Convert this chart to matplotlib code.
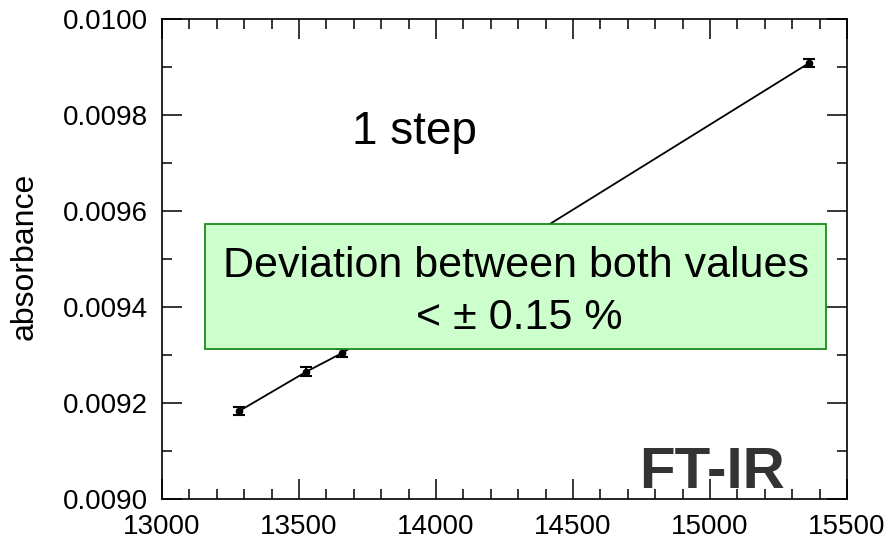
import matplotlib
matplotlib.use("Agg")
import matplotlib.pyplot as plt
from matplotlib.patches import Rectangle
from matplotlib.ticker import MultipleLocator, FormatStrFormatter

plt.rcParams['font.family'] = ['Liberation Sans', 'DejaVu Sans']

# data
wavenumber = [13281, 13526, 13657, 15361]
absorbance = [0.009183, 0.009265, 0.009304, 0.009908]
abs_err = [0.0000090, 0.0000090, 0.0000090, 0.0000090]

x_ticks = [13000, 13500, 14000, 14500, 15000, 15500]
y_ticks = [0.0090, 0.0092, 0.0094, 0.0096, 0.0098, 0.0100]

ylabel = "absorbance"
annotation = "1 step"
box_line1 = "Deviation between both values"
box_line2 = "< \u00b1 0.15 %"
method = "FT-IR"

fig = plt.figure(figsize=(8.89, 5.40), dpi=100)
ax = fig.add_axes([162/889, 1-499/540, 685/889, 480/540])

ax.plot(wavenumber, absorbance, color='black', lw=1.3, zorder=2)
ax.errorbar(wavenumber, absorbance, yerr=abs_err, fmt='o', color='black',
            ms=4.5, capsize=4, elinewidth=1.5, capthick=1.5, zorder=3)

ax.set_xlim(13000, 15500)
ax.set_ylim(0.0090, 0.0100)
ax.set_xticks(x_ticks)
ax.set_yticks(y_ticks)
ax.xaxis.set_minor_locator(MultipleLocator(100))
ax.yaxis.set_minor_locator(MultipleLocator(0.0001))
ax.yaxis.set_major_formatter(FormatStrFormatter('%.4f'))
ax.tick_params(which='both', direction='in', top=True, right=True, width=1.1,
               labelsize=20, colors='black')
ax.tick_params(which='major', length=14.4)
ax.tick_params(which='minor', length=7.2)
ax.tick_params(axis='y', which='major', pad=10)
ax.tick_params(axis='x', which='major', pad=11)
for s in ax.spines.values():
    s.set_linewidth(1.2)

fig.text(25/889, 1-256/540, ylabel, rotation=90, ha='center', va='center',
         fontsize=23)

ax.text(0.368, 0.765, annotation, transform=ax.transAxes, ha='center',
        va='center', fontsize=33)

ax.text((712-162)/685, (499-488)/480, method, transform=ax.transAxes,
        ha='center', va='baseline', fontsize=42, fontweight='bold',
        color='#333333')

x0 = (205-162)/685
x1 = (826-162)/685
y0 = (499-349)/480
y1 = (499-224)/480
rect = Rectangle((x0, y0), x1-x0, y1-y0, transform=ax.transAxes,
                 facecolor='#ccffcc', edgecolor='#1a8c1a', lw=1.3, zorder=5)
ax.add_patch(rect)
ax.text((516-162)/685, (499-277)/480, box_line1, transform=ax.transAxes,
        ha='center', va='baseline', fontsize=31, zorder=6)
ax.text((519-162)/685, (499-329)/480, box_line2, transform=ax.transAxes,
        ha='center', va='baseline', fontsize=31, zorder=6)

fig.savefig('out.png', dpi=100)
